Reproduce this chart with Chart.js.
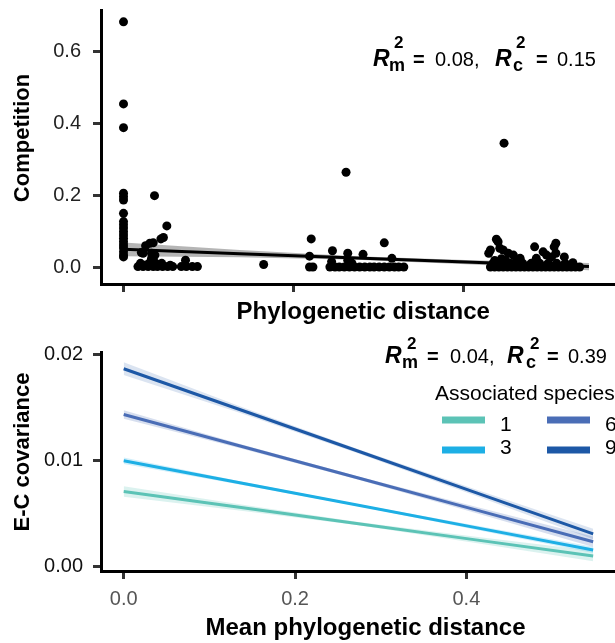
<!DOCTYPE html>
<html>
<head>
<meta charset="utf-8">
<script src="https://cdn.jsdelivr.net/npm/chart.js@4.4.1/dist/chart.umd.min.js"></script>
<style>
  html, body { margin: 0; padding: 0; background: #fff; overflow: hidden; width: 615px; height: 643px; }
  #top { position: absolute; left: 0; top: 0; }
  #bottom { position: absolute; left: 0; top: 320px; }
</style>
</head>
<body>
<canvas id="top" width="630" height="340"></canvas>
<canvas id="bottom" width="630" height="323"></canvas>
<script>
// ---- top panel: competition vs phylogenetic distance ----
const compX = [
  0, 0, 0, 0, 0, 0, 0, 0, 0, 0, 0, 0, 0, 0, 0, 0, 0, 0, 0,
  0.0365, 0.051, 0.047, 0.044, 0.035, 0.031, 0.026, 0.021, 0.023, 0.033, 0.037, 0.033, 0.073,
  0.020, 0.030, 0.038, 0.045,
  0.017, 0.023, 0.029, 0.035, 0.040, 0.046, 0.052, 0.058, 0.068, 0.074, 0.081, 0.087,
  0.025, 0.035, 0.045, 0.055,
  0.165,
  0.262, 0.221, 0.219, 0.219, 0.223, 0.246, 0.243, 0.249, 0.254, 0.245, 0.264, 0.264, 0.282, 0.307, 0.316, 0.269,
  0.260, 0.266, 0.272, 0.278, 0.284, 0.290, 0.295, 0.301, 0.307, 0.313, 0.319, 0.324, 0.330,
  0.448, 0.439, 0.441, 0.430, 0.432, 0.443, 0.447, 0.453, 0.459, 0.467, 0.484, 0.494, 0.498, 0.504,
  0.509, 0.507, 0.509, 0.519, 0.486, 0.529, 0.437, 0.445, 0.450,
  0.432, 0.437, 0.442, 0.447, 0.452, 0.457, 0.462, 0.467, 0.472, 0.477, 0.482, 0.487, 0.492, 0.497,
  0.502, 0.507, 0.512, 0.517, 0.522, 0.527, 0.532, 0.537,
  0.435, 0.440, 0.445, 0.450, 0.455, 0.460, 0.470, 0.480, 0.490, 0.500, 0.510, 0.520,
  0.438, 0.448, 0.458, 0.468, 0.478, 0.488, 0.498, 0.508, 0.518, 0.528
];
const compY = [
  0.683, 0.455, 0.389, 0.207, 0.197, 0.188, 0.151, 0.128, 0.119, 0.110, 0.100, 0.091, 0.082, 0.072, 0.063, 0.055, 0.044, 0.035, 0.030,
  0.200, 0.116, 0.084, 0.080, 0.069, 0.068, 0.061, 0.042, 0.040, 0.040, 0.035, 0.026, 0.021,
  0.012, 0.012, 0.012, 0.012,
  0.003, 0.003, 0.003, 0.003, 0.003, 0.003, 0.003, 0.003, 0.003, 0.003, 0.003, 0.003,
  0.007, 0.007, 0.007, 0.007,
  0.009,
  0.265, 0.080, 0.032, 0.002, 0.002, 0.047, 0.002, 0.002, 0.002, 0.017, 0.040, 0.021, 0.037, 0.069, 0.026, 0.012,
  0.002, 0.002, 0.002, 0.002, 0.002, 0.002, 0.002, 0.002, 0.002, 0.002, 0.002, 0.002, 0.002,
  0.346, 0.079, 0.072, 0.040, 0.049, 0.054, 0.049, 0.040, 0.035, 0.026, 0.058, 0.044, 0.035, 0.030,
  0.068, 0.058, 0.040, 0.030, 0.026, 0.014, 0.020, 0.025, 0.020,
  0.002, 0.002, 0.002, 0.002, 0.002, 0.002, 0.002, 0.002, 0.002, 0.002, 0.002, 0.002, 0.002, 0.002,
  0.002, 0.002, 0.002, 0.002, 0.002, 0.002, 0.002, 0.002,
  0.012, 0.012, 0.012, 0.012, 0.012, 0.012, 0.012, 0.012, 0.012, 0.012, 0.012, 0.012,
  0.007, 0.007, 0.007, 0.007, 0.007, 0.007, 0.007, 0.007, 0.007, 0.007
];
const fitX = [0, 0.137, 0.274, 0.411, 0.548];
const compFit = [0.051, 0.039, 0.027, 0.015, 0.003];
const compCI = [0.019, 0.010, 0.005, 0.006, 0.010];
const compTicks = [0, 0.2, 0.4, 0.6];

// ---- bottom panel: E-C covariance by associated species ----
const speciesLevels = ['1', '3', '6', '9'];
const covFit1 = [0.00704, 0.00552, 0.00400, 0.00247, 0.00095];
const covFit3 = [0.00995, 0.00784, 0.00574, 0.00363, 0.00152];
const covFit6 = [0.01431, 0.01131, 0.00831, 0.00530, 0.00230];
const covFit9 = [0.01864, 0.01474, 0.01084, 0.00693, 0.00303];
const covCI1 = [0.0005, 0.0003, 0.00015, 0.0003, 0.0005];
const covCI3 = [0.0003, 0.00015, 0.0001, 0.0002, 0.0003];
const covCI6 = [0.0004, 0.0002, 0.00015, 0.0003, 0.0005];
const covCI9 = [0.0006, 0.0003, 0.0002, 0.0003, 0.0005];
const speciesColors = ['#5CC3B6', '#1DAFE5', '#4A6DB6', '#1D58A6'];
const speciesBands = ['rgba(92,195,182,0.22)', 'rgba(29,175,229,0.2)', 'rgba(74,109,182,0.22)', 'rgba(29,88,166,0.16)'];

const FONT = '"Liberation Sans", Arial, Helvetica, sans-serif';
Chart.defaults.font.family = FONT;
Chart.defaults.animation = false;

function pts(xs, ys) { return xs.map((x, i) => ({ x: x, y: ys[i] })); }

function drawRuns(ctx, runs, dy) {
  runs.forEach(r => {
    ctx.font = r.f + ' ' + FONT;
    ctx.fillStyle = r.c || '#000';
    ctx.textAlign = 'left';
    ctx.textBaseline = 'alphabetic';
    ctx.fillText(r.t, r.x, r.y - dy);
  });
}

function yTitle(ctx, text, x, y) {
  ctx.save();
  ctx.translate(x, y);
  ctx.rotate(-Math.PI / 2);
  ctx.font = 'bold 22px ' + FONT;
  ctx.fillStyle = '#000';
  ctx.textAlign = 'center';
  ctx.textBaseline = 'middle';
  ctx.fillText(text, 0, 0);
  ctx.restore();
}

function axisOpts(opts) {
  return Object.assign({
    type: 'linear',
    grid: { drawOnChartArea: false, drawTicks: true, tickLength: 8, tickWidth: 3, tickColor: '#333' },
    border: { display: true, width: 3, color: '#000' }
  }, opts);
}

// top chart
const topText = {
  id: 'topText',
  afterDraw(chart) {
    const ctx = chart.ctx;
    yTitle(ctx, 'Competition', 23, 138);
    drawRuns(ctx, [
      { t: 'R', f: 'italic bold 23px', x: 373, y: 66 },
      { t: '2', f: 'bold 17px', x: 394, y: 48 },
      { t: 'm', f: 'bold 18px', x: 389, y: 71 },
      { t: '=', f: 'bold 20px', x: 413, y: 66 },
      { t: '0.08,', f: '20px', x: 435, y: 66 },
      { t: 'R', f: 'italic bold 23px', x: 495, y: 66 },
      { t: '2', f: 'bold 17px', x: 516, y: 48 },
      { t: 'c', f: 'bold 18px', x: 513, y: 71 },
      { t: '=', f: 'bold 20px', x: 536, y: 66 },
      { t: '0.15', f: '20px', x: 557, y: 66 }
    ], 0);
  }
};

new Chart(document.getElementById('top'), {
  type: 'scatter',
  data: {
    datasets: [
      { type: 'line', data: pts(fitX, compFit.map((v, i) => v - compCI[i])), borderWidth: 0, pointRadius: 0, fill: false, order: 3 },
      { type: 'line', data: pts(fitX, compFit.map((v, i) => v + compCI[i])), borderWidth: 0, pointRadius: 0,
        fill: '-1', backgroundColor: 'rgba(120,120,120,0.55)', order: 2 },
      { data: pts(compX, compY), pointRadius: 4.5, backgroundColor: '#000', borderWidth: 0, order: 1 },
      { type: 'line', data: pts(fitX, compFit), borderColor: '#000', borderWidth: 3, pointRadius: 0, fill: false, order: 0 }
    ]
  },
  options: {
    responsive: false,
    devicePixelRatio: 1,
    layout: { padding: { top: 10, left: 0, right: 0, bottom: 0 } },
    plugins: { legend: { display: false }, tooltip: { enabled: false } },
    scales: {
      x: axisOpts({
        min: -0.0265, max: 0.591,
        ticks: { display: false, stepSize: 0.2, includeBounds: false },
        title: { display: true, text: 'Phylogenetic distance', color: '#000', font: { size: 24, weight: 'bold' }, padding: { top: 0, bottom: 13 } },
        afterFit(s) { s.height = 56; s.paddingLeft = 0; s.paddingRight = 0; }
      }),
      y: axisOpts({
        min: -0.0453, max: 0.7158,
        afterBuildTicks(s) { s.ticks = compTicks.map(v => ({ value: v })); },
        ticks: { color: '#222', font: { size: 20 }, padding: 12, callback: v => v.toFixed(1) },
        afterFit(s) { s.width = 101; s.paddingTop = 0; s.paddingBottom = 0; }
      })
    }
  },
  plugins: [topText]
});

// bottom chart
const bottomText = {
  id: 'bottomText',
  afterDraw(chart) {
    const ctx = chart.ctx;
    const dy = 320;
    yTitle(ctx, 'E-C covariance', 23, 452 - dy);
    drawRuns(ctx, [
      { t: 'R', f: 'italic bold 23px', x: 385, y: 363 },
      { t: '2', f: 'bold 17px', x: 407, y: 349 },
      { t: 'm', f: 'bold 18px', x: 402, y: 368 },
      { t: '=', f: 'bold 20px', x: 427, y: 363 },
      { t: '0.04,', f: '20px', x: 450, y: 363 },
      { t: 'R', f: 'italic bold 23px', x: 507, y: 363 },
      { t: '2', f: 'bold 17px', x: 530, y: 349 },
      { t: 'c', f: 'bold 18px', x: 526, y: 368 },
      { t: '=', f: 'bold 20px', x: 547, y: 363 },
      { t: '0.39', f: '20px', x: 568, y: 363 },
      { t: 'Associated species', f: '21px', x: 435, y: 400 }
    ], dy);
    // legend keys: two columns, filled down the column
    const keyX = [442, 442, 547, 547];
    const keyY = [420, 450, 420, 450];
    const labY = [431, 454, 431, 454];
    speciesLevels.forEach((lab, i) => {
      ctx.strokeStyle = speciesColors[i];
      ctx.lineWidth = 7;
      ctx.lineCap = 'butt';
      ctx.beginPath();
      ctx.moveTo(keyX[i], keyY[i] - dy);
      ctx.lineTo(keyX[i] + 43, keyY[i] - dy);
      ctx.stroke();
      drawRuns(ctx, [{ t: lab, f: '21px', x: keyX[i] + 58, y: labY[i] }], dy);
    });
  }
};

const covFits = [covFit1, covFit3, covFit6, covFit9];
const covCIs = [covCI1, covCI3, covCI6, covCI9];
const covSets = [];
covFits.forEach((fit, k) => {
  const ci = covCIs[k];
  const base = covSets.length;
  covSets.push({ type: 'line', data: pts(fitX, fit.map((v, i) => v - ci[i])), borderWidth: 0, pointRadius: 0, fill: false, order: 10 });
  covSets.push({ type: 'line', data: pts(fitX, fit.map((v, i) => v + ci[i])), borderWidth: 0, pointRadius: 0,
    fill: base, backgroundColor: speciesBands[k], order: 9 });
  covSets.push({ type: 'line', label: speciesLevels[k], data: pts(fitX, fit), borderColor: speciesColors[k], borderWidth: 3,
    pointRadius: 0, fill: false, order: 4 - k });
});

new Chart(document.getElementById('bottom'), {
  type: 'scatter',
  data: { datasets: covSets },
  options: {
    responsive: false,
    devicePixelRatio: 1,
    layout: { padding: { top: 32, left: 0, right: 0, bottom: 0 } },
    plugins: { legend: { display: false }, tooltip: { enabled: false } },
    scales: {
      x: axisOpts({
        min: -0.0265, max: 0.591,
        ticks: { color: '#555', font: { size: 20 }, padding: 8, stepSize: 0.2, includeBounds: false, callback: v => v.toFixed(1) },
        title: { display: true, text: 'Mean phylogenetic distance', color: '#000', font: { size: 24, weight: 'bold' }, padding: { top: 0, bottom: 0 } },
        afterFit(s) { s.height = 72; s.paddingLeft = 0; s.paddingRight = 0; }
      }),
      y: axisOpts({
        min: -0.00047, max: 0.02022,
        ticks: { color: '#111', font: { size: 20 }, padding: 10, stepSize: 0.01, includeBounds: false, callback: v => v.toFixed(2) },
        afterFit(s) { s.width = 101; s.paddingTop = 0; s.paddingBottom = 0; }
      })
    }
  },
  plugins: [bottomText]
});
</script>
</body>
</html>
